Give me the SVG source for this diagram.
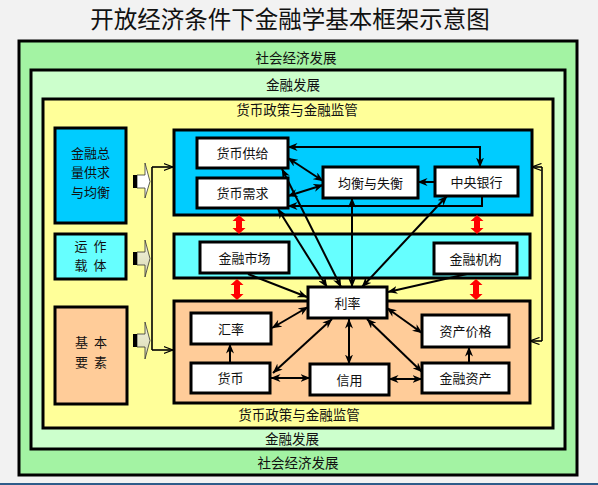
<svg xmlns="http://www.w3.org/2000/svg" width="598" height="485" viewBox="0 0 598 485">
<style>
text{font-family:"Noto Sans CJK SC","Liberation Sans",sans-serif;fill:#111;text-anchor:middle}
.t{font-size:13.5px}
.lb{font-size:13px}
.frame{stroke:#000;stroke-width:3}
.node{fill:#fff;stroke:#000;stroke-width:3}
.c{stroke:#000;stroke-width:2;fill:none}
.thin{stroke:#000;stroke-width:1.6;fill:none}
.red{fill:#f00}
</style>
<defs>
<marker id="ah" viewBox="0 0 10 8" refX="9.5" refY="4" markerWidth="10" markerHeight="8" markerUnits="userSpaceOnUse" orient="auto-start-reverse"><path d="M0,0 L10,4 L0,8 L3,4 z" fill="#000"/></marker>
<marker id="oa" viewBox="0 0 10 8" refX="9.5" refY="4" markerWidth="10" markerHeight="8" markerUnits="userSpaceOnUse" orient="auto"><path d="M0,0.5 L9.5,4 L0,7.5" fill="none" stroke="#000" stroke-width="1.2"/></marker>
<linearGradient id="bg" x1="0" y1="0" x2="0" y2="1"><stop offset="0" stop-color="#f4f4e0"/><stop offset="1" stop-color="#d8d8b0"/></linearGradient>
</defs>
<rect x="0" y="0" width="598" height="485" fill="#f2f2f2"/>
<rect x="0" y="483" width="598" height="2" fill="#2e5c8a"/>
<text x="290" y="28" style="font-size:23.5px">开放经济条件下金融学基本框架示意图</text>

<g id="social">
<rect class="frame" x="19" y="41" width="558" height="434" fill="#a3f3a3"/>
<text class="t" x="296" y="63">社会经济发展</text>
<text class="t" x="298" y="468">社会经济发展</text>
</g>
<g id="finance-dev">
<rect class="frame" x="31" y="70" width="534" height="379" fill="#ccffcc"/>
<text class="t" x="293" y="90">金融发展</text>
<text class="t" x="292" y="444">金融发展</text>
</g>
<g id="policy">
<rect class="frame" x="43" y="99" width="510" height="329" fill="#ffff99"/>
<text class="t" x="297" y="115">货币政策与金融监管</text>
<text class="t" x="299" y="420">货币政策与金融监管</text>
</g>

<g id="left-total">
<rect class="frame" x="55" y="128" width="71" height="95" fill="#00ccff"/>
<text class="lb" x="90.5" y="158">金融总</text>
<text class="lb" x="90.5" y="177">量供求</text>
<text class="lb" x="90.5" y="197">与均衡</text>
</g>
<g id="left-carrier">
<rect class="frame" x="55" y="234" width="71" height="45" fill="#66ffff"/>
<text class="lb" x="90.5" y="251" xml:space="preserve">运  作</text>
<text class="lb" x="90.5" y="270" xml:space="preserve">载  体</text>
</g>
<g id="left-basic">
<rect class="frame" x="55" y="307" width="72" height="97" fill="#ffcc99"/>
<text class="lb" x="91" y="347" xml:space="preserve">基  本</text>
<text class="lb" x="91" y="367" xml:space="preserve">要  素</text>
</g>

<g id="block-arrows">
<path d="M137,175 H145 V163 L150,181.5 L145,198 V188 H137 Z" fill="#fff" stroke="#333" stroke-width="0.8"/>
<rect x="133" y="175" width="4" height="13" fill="#000"/>
<path d="M137,252 H145 V240 L150,258.5 L145,277 V265 H137 Z" fill="url(#bg)" stroke="#333" stroke-width="0.8"/>
<rect x="133" y="252" width="4" height="13" fill="#000"/>
<path d="M137,334 H145 V322 L150,340.5 L145,359 V347 H137 Z" fill="url(#bg)" stroke="#333" stroke-width="0.8"/>
<rect x="133" y="334" width="4" height="13" fill="#000"/>
</g>

<g id="blue-box"><rect class="frame" x="174" y="130" width="358" height="85" fill="#00ccff"/></g>
<g id="cyan-box"><rect class="frame" x="174" y="234" width="356" height="44" fill="#66ffff"/></g>
<g id="peach-box"><rect class="frame" x="174" y="301" width="356" height="102" fill="#ffcc99"/></g>

<g id="red-arrows" class="red">
<path d="M239,215 L245.5,221 L242,221 L242,228 L245.5,228 L239,234 L232.5,228 L236,228 L236,221 L232.5,221 Z"/>
<path d="M237,279 L243.5,285 L240,285 L240,294 L243.5,294 L237,300 L230.5,294 L234,294 L234,285 L230.5,285 Z"/>
<path d="M477,215 L483.5,221 L480,221 L480,228 L483.5,228 L477,234 L470.5,228 L474,228 L474,221 L470.5,221 Z"/>
<path d="M476,279 L482.5,285 L479,285 L479,294 L482.5,294 L476,300 L469.5,294 L473,294 L473,285 L469.5,285 Z"/>
</g>

<g id="connectors">
<polyline class="thin" points="152,167 152,350"/>
<line class="thin" x1="152" y1="167" x2="173" y2="167" marker-end="url(#oa)"/>
<line class="thin" x1="152" y1="350" x2="173" y2="350" marker-end="url(#oa)"/>
<polyline class="thin" points="542,167 542,341"/>
<line class="thin" x1="542" y1="167" x2="532" y2="167" marker-end="url(#oa)"/>
<line class="thin" x1="542" y1="341" x2="530" y2="341" marker-end="url(#oa)"/>

<polyline class="c" points="288,147 480,147 480,167" marker-start="url(#ah)" marker-end="url(#ah)"/>
<polyline class="c" points="482,196 482,206 288,206" marker-end="url(#ah)"/>
<line class="c" x1="435" y1="182" x2="418" y2="182" marker-end="url(#ah)"/>
<line class="c" x1="288" y1="158" x2="323" y2="181" marker-start="url(#ah)" marker-end="url(#ah)"/>
<line class="c" x1="288" y1="196" x2="323" y2="185" marker-start="url(#ah)" marker-end="url(#ah)"/>

<line class="c" x1="282" y1="169" x2="341" y2="287" marker-start="url(#ah)" marker-end="url(#ah)"/>
<line class="c" x1="278" y1="209" x2="327" y2="287" marker-start="url(#ah)" marker-end="url(#ah)"/>
<line class="c" x1="352" y1="198" x2="352" y2="287" marker-start="url(#ah)" marker-end="url(#ah)"/>
<line class="c" x1="447" y1="196" x2="362" y2="287" marker-start="url(#ah)" marker-end="url(#ah)"/>
<line class="c" x1="248" y1="274" x2="307" y2="297" marker-end="url(#ah)"/>
<line class="c" x1="467" y1="274" x2="388" y2="292" marker-end="url(#ah)"/>

<line class="c" x1="308" y1="307" x2="272" y2="328" marker-start="url(#ah)" marker-end="url(#ah)"/>
<line class="c" x1="332" y1="319" x2="273" y2="373" marker-start="url(#ah)" marker-end="url(#ah)"/>
<line class="c" x1="349" y1="319" x2="349" y2="364" marker-start="url(#ah)" marker-end="url(#ah)"/>
<line class="c" x1="230" y1="363" x2="230" y2="344" marker-end="url(#ah)"/>
<line class="c" x1="271" y1="378" x2="310" y2="378" marker-start="url(#ah)" marker-end="url(#ah)"/>
<line class="c" x1="389" y1="379" x2="422" y2="379" marker-start="url(#ah)" marker-end="url(#ah)"/>
<line class="c" x1="469" y1="363" x2="469" y2="347" marker-end="url(#ah)"/>
<line class="c" x1="387" y1="308" x2="422" y2="333" marker-start="url(#ah)" marker-end="url(#ah)"/>
<line class="c" x1="367" y1="319" x2="422" y2="372" marker-start="url(#ah)" marker-end="url(#ah)"/>
</g>

<g id="money-supply"><rect class="node" x="197" y="138" width="91" height="30"/><text class="lb" x="242.5" y="158">货币供给</text></g>
<g id="money-demand"><rect class="node" x="197" y="178" width="91" height="30"/><text class="lb" x="242.5" y="198">货币需求</text></g>
<g id="equilibrium"><rect class="node" x="323" y="167" width="95" height="31"/><text class="lb" x="370.5" y="187.5">均衡与失衡</text></g>
<g id="central-bank"><rect class="node" x="435" y="167" width="83" height="29"/><text class="lb" x="476.5" y="186.5">中央银行</text></g>
<g id="fin-market"><rect class="node" x="200" y="242" width="89" height="31"/><text class="lb" x="244.5" y="262.5">金融市场</text></g>
<g id="fin-institution"><rect class="node" x="434" y="243" width="83" height="31"/><text class="lb" x="475.5" y="263.5">金融机构</text></g>
<g id="interest-rate"><rect class="node" x="308" y="287" width="79" height="31"/><text class="lb" x="347.5" y="307.5">利率</text></g>
<g id="exchange-rate"><rect class="node" x="191" y="313" width="80" height="31"/><text class="lb" x="231" y="333.5">汇率</text></g>
<g id="currency"><rect class="node" x="191" y="363" width="79" height="30"/><text class="lb" x="230.5" y="383">货币</text></g>
<g id="credit"><rect class="node" x="310" y="364" width="79" height="31"/><text class="lb" x="349.5" y="384.5">信用</text></g>
<g id="asset-price"><rect class="node" x="422" y="315" width="87" height="32"/><text class="lb" x="465.5" y="336">资产价格</text></g>
<g id="fin-asset"><rect class="node" x="422" y="363" width="87" height="30"/><text class="lb" x="465.5" y="383">金融资产</text></g>
</svg>
